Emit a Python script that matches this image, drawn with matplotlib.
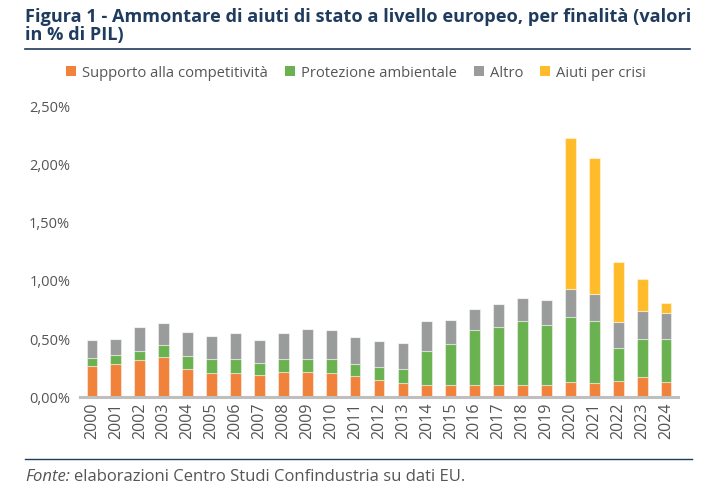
import matplotlib
matplotlib.use("Agg")
import matplotlib.pyplot as plt
from matplotlib.lines import Line2D
from matplotlib.patches import Patch
import numpy as np

years = [str(y) for y in range(2000, 2025)]
competitivita = [0.27, 0.288, 0.316, 0.348, 0.241, 0.204, 0.204, 0.193, 0.219, 0.219,
                 0.21, 0.178, 0.144, 0.123, 0.106, 0.103, 0.103, 0.106, 0.106, 0.103,
                 0.132, 0.123, 0.141, 0.175, 0.132]
ambientale = [0.066, 0.074, 0.084, 0.10, 0.112, 0.121, 0.127, 0.10, 0.106, 0.112,
              0.121, 0.106, 0.112, 0.115, 0.291, 0.356, 0.471, 0.494, 0.546, 0.52,
              0.554, 0.529, 0.278, 0.328, 0.368]
altro = [0.159, 0.138, 0.20, 0.193, 0.205, 0.198, 0.218, 0.202, 0.224, 0.253,
         0.247, 0.231, 0.23, 0.23, 0.255, 0.207, 0.185, 0.204, 0.201, 0.216,
         0.242, 0.233, 0.23, 0.235, 0.222]
crisi = [0]*20 + [1.305, 1.172, 0.517, 0.276, 0.088]

labels = ["Supporto alla competitività", "Protezione ambientale", "Altro", "Aiuti per crisi"]
colors = ["#F0823C", "#6AB150", "#9A9C9C", "#FFBC2A"]
yticks = [0.0, 0.5, 1.0, 1.5, 2.0, 2.5]
ytick_labels = ["0,00%", "0,50%", "1,00%", "1,50%", "2,00%", "2,50%"]

title_color = "#1F3B5E"
text_color = "#555555"
plt.rcParams['font.family'] = ['Open Sans', 'DejaVu Sans']

fig = plt.figure(figsize=(7.05, 4.98), dpi=100)
W, H = 705, 498
ax = fig.add_axes([80 / W, 1 - 397 / H, (678 - 80) / W, (397 - 107) / H])

x = np.arange(len(years))
bottom = np.zeros(len(years))
series = [competitivita, ambientale, altro, crisi]
for vals, col, lab in zip(series, colors, labels):
    v = np.array(vals, dtype=float)
    ax.bar(x, v, width=0.45, bottom=bottom, color=col, label=lab,
           edgecolor=(1, 1, 1, 0.45), linewidth=0.8, zorder=2)
    bottom += v

ax.set_xlim(-0.5, len(years) - 0.5)
ax.set_ylim(0, 2.5)
ax.set_yticks(yticks)
ax.set_yticklabels(ytick_labels)
ax.set_xticks(x)
ax.set_xticklabels(years, rotation=90)
ax.tick_params(axis='both', length=0, colors=text_color)
ax.tick_params(axis='y', pad=7, labelsize=10.5)
ax.tick_params(axis='x', pad=4, labelsize=11.5)
for s in ["top", "right", "left"]:
    ax.spines[s].set_visible(False)
ax.spines["bottom"].set_color("#BFBFBF")
ax.spines["bottom"].set_linewidth(2.2)
ax.spines["bottom"].set_zorder(3)

# Title
fig.text(25 / W, 1 - 8 / H,
         "Figura 1 - Ammontare di aiuti di stato a livello europeo, per finalità (valori\nin % di PIL)",
         ha="left", va="top", fontsize=13.1, fontweight="bold", color=title_color,
         linespacing=0.98)
fig.add_artist(Line2D([25 / W, 690 / W], [1 - 49 / H, 1 - 49 / H], color=title_color,
                      linewidth=1.2))

# Legend
handles = [Patch(facecolor=c, edgecolor="none") for c in colors]
fig.legend(handles, labels, loc="center", bbox_to_anchor=(356 / W, 1 - 73 / H),
           ncol=4, frameon=False, fontsize=10.6, handlelength=0.68, handleheight=0.68,
           handletextpad=0.42, columnspacing=1.15, labelcolor=text_color)

# Footer
fig.add_artist(Line2D([25 / W, 692 / W], [1 - 459 / H, 1 - 459 / H], color=title_color,
                      linewidth=1.0))
fonte = fig.text(25 / W, 1 - 477 / H, "Fonte:", ha="left", va="center", fontsize=12.0,
                 style="italic", color=text_color)
fig.canvas.draw()
bb = fonte.get_window_extent(renderer=fig.canvas.get_renderer())
fig.text((bb.x1 + 4) / W, 1 - 477 / H, "elaborazioni Centro Studi Confindustria su dati EU.",
         ha="left", va="center", fontsize=12.0, color=text_color)

fig.savefig("out.png", dpi=100)
